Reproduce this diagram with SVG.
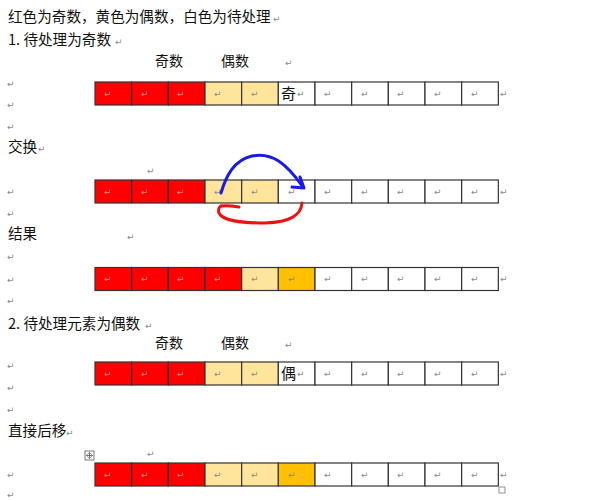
<svg xmlns="http://www.w3.org/2000/svg" width="589" height="500" viewBox="0 0 589 500">
<style>
.t{font-family:"Noto Sans CJK SC","Noto Sans",sans-serif;font-size:14.6px;fill:#111}
.l{font-family:"Noto Sans CJK SC","Noto Sans",sans-serif;font-size:14px;fill:#111}
.c{font-family:"Noto Sans CJK SC","Noto Sans",sans-serif;font-size:15px;fill:#111}
.p{font-family:"DejaVu Sans",sans-serif;font-size:9px;fill:#8a8a8a}
.pr{font-family:"DejaVu Sans",sans-serif;font-size:9px;fill:#f28a8a}
.cell{stroke:#333;stroke-width:1.2}
.R{fill:#ff0000}
.Y{fill:#ffe59c}
.O{fill:#ffc000}
.W{fill:#ffffff}
.arr{fill:none;stroke-width:3;stroke-linecap:round;stroke-linejoin:round}
</style>
<rect width="589" height="500" fill="#ffffff"/>
<g id="headings">
<text class="t" x="8" y="22">红色为奇数，黄色为偶数，白色为待处理</text><text class="p" x="273" y="22">↵</text>
<text class="t" x="8" y="45">1. 待处理为奇数</text><text class="p" x="115" y="45">↵</text>
<text class="l" x="155" y="66">奇数</text><text class="l" x="221" y="66">偶数</text><text class="p" x="285" y="66">↵</text>
<text class="t" x="8" y="152">交换</text><text class="p" x="38" y="152">↵</text>
<text class="p" x="147" y="174">↵</text>
<text class="t" x="8" y="239">结果</text><text class="p" x="127" y="240">↵</text>
<text class="t" x="8" y="329">2. 待处理元素为偶数</text><text class="p" x="145" y="329">↵</text>
<text class="l" x="155" y="348">奇数</text><text class="l" x="221" y="348">偶数</text><text class="p" x="285" y="348">↵</text>
<text class="t" x="8" y="436">直接后移</text><text class="p" x="66" y="436">↵</text>
<text class="p" x="147" y="457">↵</text>
</g>
<g id="margin-marks">
<text class="p" x="7" y="87">↵</text>
<text class="p" x="7" y="108">↵</text>
<text class="p" x="7" y="130">↵</text>
<text class="p" x="7" y="195">↵</text>
<text class="p" x="7" y="217">↵</text>
<text class="p" x="7" y="260">↵</text>
<text class="p" x="7" y="283">↵</text>
<text class="p" x="7" y="304">↵</text>
<text class="p" x="7" y="369">↵</text>
<text class="p" x="7" y="391">↵</text>
<text class="p" x="7" y="413">↵</text>
<text class="p" x="7" y="478">↵</text>
<text class="p" x="7" y="498">↵</text>
</g>
<g id="row1">
<rect class="cell R" x="95" y="82" width="36.67" height="23"/>
<rect class="cell R" x="131.67" y="82" width="36.67" height="23"/>
<rect class="cell R" x="168.33" y="82" width="36.67" height="23"/>
<rect class="cell Y" x="205" y="82" width="36.67" height="23"/>
<rect class="cell Y" x="241.67" y="82" width="36.67" height="23"/>
<rect class="cell W" x="278.33" y="82" width="36.67" height="23"/>
<rect class="cell W" x="315" y="82" width="36.67" height="23"/>
<rect class="cell W" x="351.67" y="82" width="36.67" height="23"/>
<rect class="cell W" x="388.33" y="82" width="36.67" height="23"/>
<rect class="cell W" x="425" y="82" width="36.67" height="23"/>
<rect class="cell W" x="461.67" y="82" width="36.67" height="23"/>
<text class="pr" x="104" y="97">↵</text><text class="pr" x="141" y="97">↵</text><text class="pr" x="177" y="97">↵</text>
<text class="p" x="214" y="97">↵</text><text class="p" x="251" y="97">↵</text>
<text class="c" x="281" y="99">奇</text><text class="p" x="297" y="97">↵</text>
<text class="p" x="324" y="97">↵</text><text class="p" x="361" y="97">↵</text><text class="p" x="397" y="97">↵</text><text class="p" x="434" y="97">↵</text><text class="p" x="471" y="97">↵</text>
<text class="p" x="500" y="97">↵</text>
</g>
<g id="row2">
<rect class="cell R" x="95" y="180" width="36.67" height="23"/>
<rect class="cell R" x="131.67" y="180" width="36.67" height="23"/>
<rect class="cell R" x="168.33" y="180" width="36.67" height="23"/>
<rect class="cell Y" x="205" y="180" width="36.67" height="23"/>
<rect class="cell Y" x="241.67" y="180" width="36.67" height="23"/>
<rect class="cell W" x="278.33" y="180" width="36.67" height="23"/>
<rect class="cell W" x="315" y="180" width="36.67" height="23"/>
<rect class="cell W" x="351.67" y="180" width="36.67" height="23"/>
<rect class="cell W" x="388.33" y="180" width="36.67" height="23"/>
<rect class="cell W" x="425" y="180" width="36.67" height="23"/>
<rect class="cell W" x="461.67" y="180" width="36.67" height="23"/>
<text class="pr" x="104" y="195">↵</text><text class="pr" x="141" y="195">↵</text><text class="pr" x="177" y="195">↵</text>
<text class="p" x="214" y="195">↵</text><text class="p" x="251" y="195">↵</text><text class="p" x="288" y="195">↵</text>
<text class="p" x="324" y="195">↵</text><text class="p" x="361" y="195">↵</text><text class="p" x="397" y="195">↵</text><text class="p" x="434" y="195">↵</text><text class="p" x="471" y="195">↵</text>
<text class="p" x="500" y="195">↵</text>
</g>
<g id="row3">
<rect class="cell R" x="95" y="267.5" width="36.67" height="23"/>
<rect class="cell R" x="131.67" y="267.5" width="36.67" height="23"/>
<rect class="cell R" x="168.33" y="267.5" width="36.67" height="23"/>
<rect class="cell R" x="205" y="267.5" width="36.67" height="23"/>
<rect class="cell Y" x="241.67" y="267.5" width="36.67" height="23"/>
<rect class="cell O" x="278.33" y="267.5" width="36.67" height="23"/>
<rect class="cell W" x="315" y="267.5" width="36.67" height="23"/>
<rect class="cell W" x="351.67" y="267.5" width="36.67" height="23"/>
<rect class="cell W" x="388.33" y="267.5" width="36.67" height="23"/>
<rect class="cell W" x="425" y="267.5" width="36.67" height="23"/>
<rect class="cell W" x="461.67" y="267.5" width="36.67" height="23"/>
<text class="pr" x="104" y="282">↵</text><text class="pr" x="141" y="282">↵</text><text class="pr" x="177" y="282">↵</text><text class="pr" x="214" y="282">↵</text>
<text class="p" x="251" y="282">↵</text><text class="p" x="288" y="282">↵</text>
<text class="p" x="324" y="282">↵</text><text class="p" x="361" y="282">↵</text><text class="p" x="397" y="282">↵</text><text class="p" x="434" y="282">↵</text><text class="p" x="471" y="282">↵</text>
<text class="p" x="500" y="282">↵</text>
</g>
<g id="row4">
<rect class="cell R" x="95" y="362" width="36.67" height="23"/>
<rect class="cell R" x="131.67" y="362" width="36.67" height="23"/>
<rect class="cell R" x="168.33" y="362" width="36.67" height="23"/>
<rect class="cell Y" x="205" y="362" width="36.67" height="23"/>
<rect class="cell Y" x="241.67" y="362" width="36.67" height="23"/>
<rect class="cell W" x="278.33" y="362" width="36.67" height="23"/>
<rect class="cell W" x="315" y="362" width="36.67" height="23"/>
<rect class="cell W" x="351.67" y="362" width="36.67" height="23"/>
<rect class="cell W" x="388.33" y="362" width="36.67" height="23"/>
<rect class="cell W" x="425" y="362" width="36.67" height="23"/>
<rect class="cell W" x="461.67" y="362" width="36.67" height="23"/>
<text class="pr" x="104" y="377">↵</text><text class="pr" x="141" y="377">↵</text><text class="pr" x="177" y="377">↵</text>
<text class="p" x="214" y="377">↵</text><text class="p" x="251" y="377">↵</text>
<text class="c" x="281" y="379">偶</text><text class="p" x="297" y="377">↵</text>
<text class="p" x="324" y="377">↵</text><text class="p" x="361" y="377">↵</text><text class="p" x="397" y="377">↵</text><text class="p" x="434" y="377">↵</text><text class="p" x="471" y="377">↵</text>
<text class="p" x="500" y="377">↵</text>
</g>
<g id="row5">
<g id="move-handle" fill="none" stroke="#555" stroke-width="0.8">
<rect x="85" y="451" width="9" height="9" fill="#fff"/>
<path d="M89.5,452.5 V458.5 M86.5,455.5 H92.5 M88.3,453.7 L89.5,452.5 L90.7,453.7 M88.3,457.3 L89.5,458.5 L90.7,457.3 M87.7,454.3 L86.5,455.5 L87.7,456.7 M91.3,454.3 L92.5,455.5 L91.3,456.7"/>
</g>
<rect class="cell R" x="95" y="463" width="36.67" height="23"/>
<rect class="cell R" x="131.67" y="463" width="36.67" height="23"/>
<rect class="cell R" x="168.33" y="463" width="36.67" height="23"/>
<rect class="cell Y" x="205" y="463" width="36.67" height="23"/>
<rect class="cell Y" x="241.67" y="463" width="36.67" height="23"/>
<rect class="cell O" x="278.33" y="463" width="36.67" height="23"/>
<rect class="cell W" x="315" y="463" width="36.67" height="23"/>
<rect class="cell W" x="351.67" y="463" width="36.67" height="23"/>
<rect class="cell W" x="388.33" y="463" width="36.67" height="23"/>
<rect class="cell W" x="425" y="463" width="36.67" height="23"/>
<rect class="cell W" x="461.67" y="463" width="36.67" height="23"/>
<text class="pr" x="104" y="478">↵</text><text class="pr" x="141" y="478">↵</text><text class="pr" x="177" y="478">↵</text>
<text class="p" x="214" y="478">↵</text><text class="p" x="251" y="478">↵</text><text class="p" x="288" y="478">↵</text>
<text class="p" x="324" y="478">↵</text><text class="p" x="361" y="478">↵</text><text class="p" x="397" y="478">↵</text><text class="p" x="434" y="478">↵</text><text class="p" x="471" y="478">↵</text>
<text class="p" x="500" y="478">↵</text>
<rect x="499" y="487" width="6" height="6" fill="#fff" stroke="#777" stroke-width="0.8"/>
</g>
<g id="connectors">
<path class="arr" stroke="#1a1ae6" d="M221,193 C226,176 234,160 252,156 C272,152 286,163 303,187"/>
<path class="arr" stroke="#1a1ae6" d="M300,177 L304,188 L292,187"/>
<path class="arr" stroke="#ee1111" d="M302,203 C301,215 291,222 265,223 C240,223 223,221 219,213 C218,210 219,207 221,206"/>
<path class="arr" stroke="#ee1111" d="M221,206 C227,205 233,206 239,207"/>
</g>
</svg>
